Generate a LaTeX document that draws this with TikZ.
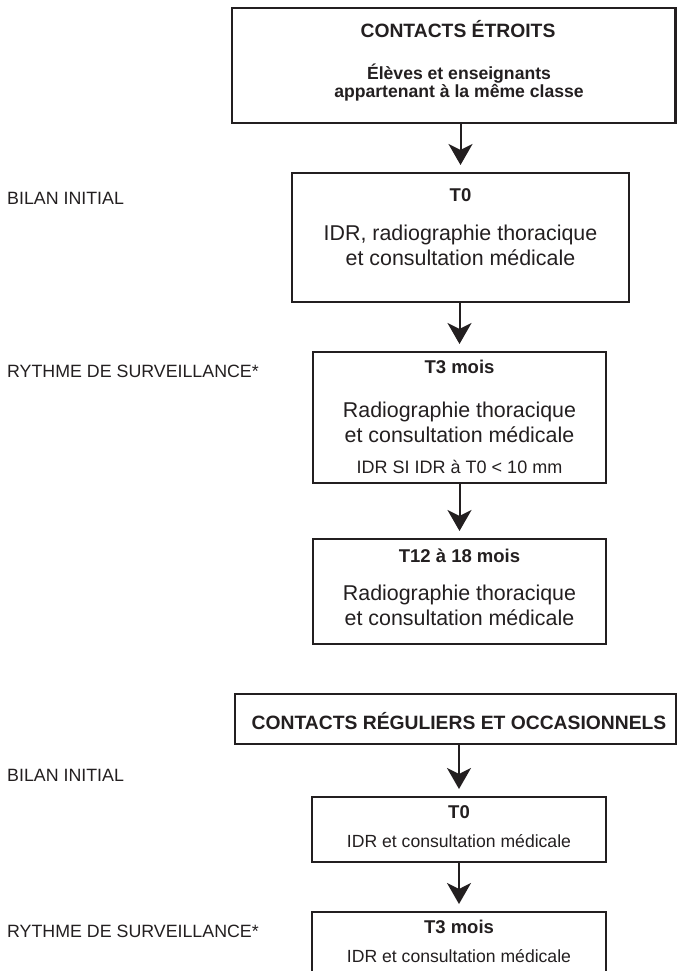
\documentclass[tikz,border=0pt]{standalone}
\usepackage{fontspec}
\setmainfont{Liberation Sans}
\usetikzlibrary{arrows.meta}
\definecolor{ink}{RGB}{35,31,32}
\begin{document}
\begin{tikzpicture}[x=1pt,y=-1pt,
  box/.style={draw=ink, line width=2.2pt, inner sep=0pt, outer sep=0pt},
  arr/.style={draw=ink, line width=2pt, -{Stealth[length=21pt,width=24pt,inset=6pt]}, shorten >=8pt},
  txt/.style={text=ink, anchor=base, inner sep=0pt},
  headtxt/.style={txt, font=\fontsize{19.3}{22}\selectfont\bfseries},
  subtxt/.style={txt, font=\fontsize{17.6}{20}\selectfont\bfseries},
  titletxt/.style={txt, font=\fontsize{18.5}{21}\selectfont\bfseries},
  bigtxt/.style={txt, font=\fontsize{21.4}{25}\selectfont},
  midtxt/.style={txt, font=\fontsize{18}{21}\selectfont},
  smalltxt/.style={txt, font=\fontsize{17.6}{20}\selectfont},
  sidetxt/.style={txt, anchor=base west, font=\fontsize{17.8}{20}\selectfont}]
\useasboundingbox (0,0) rectangle (677,971);
\fill[white] (0,0) rectangle (677,971);
\clip (0,0) rectangle (677,971);

% boxes
\node[box, minimum width=443.5pt, minimum height=115pt] (b1) at (453.75,65.5) {};
\node[box, minimum width=337pt, minimum height=129pt] (b2) at (460.5,237.5) {};
\node[box, minimum width=293pt, minimum height=131pt] (b3) at (459.5,417.5) {};
\node[box, minimum width=293pt, minimum height=105pt] (b4) at (459.5,591.5) {};
\node[box, minimum width=441pt, minimum height=50pt] (b5) at (455.5,719) {};
\node[box, minimum width=294pt, minimum height=65pt] (b6) at (459,829.5) {};
\node[box, minimum width=294pt, minimum height=88pt] (b7) at (459,956) {};

% box 1 texts
\node[headtxt] (t1a) at (458,37.5) {CONTACTS ÉTROITS};
\node[subtxt] (t1b) at (459,79.5) {Élèves et enseignants};
\node[subtxt] (t1c) at (459,97.5) {appartenant à la même classe};

% box 2 texts
\node[titletxt] (t2a) at (460.5,201.5) {T0};
\node[bigtxt] (t2b) at (460.5,240) {IDR, radiographie thoracique};
\node[bigtxt] (t2c) at (460.5,265) {et consultation médicale};

% box 3 texts
\node[titletxt] (t3a) at (459.5,373) {T3 mois};
\node[bigtxt] (t3b) at (459.5,417) {Radiographie thoracique};
\node[bigtxt] (t3c) at (459.5,442) {et consultation médicale};
\node[midtxt] (t3d) at (459.5,473) {IDR SI IDR à T0 < 10 mm};

% box 4 texts
\node[titletxt] (t4a) at (459.5,562) {T12 à 18 mois};
\node[bigtxt] (t4b) at (459.5,600) {Radiographie thoracique};
\node[bigtxt] (t4c) at (459.5,625) {et consultation médicale};

% box 5 text
\node[headtxt] (t5a) at (459,729) {CONTACTS RÉGULIERS ET OCCASIONNELS};

% box 6 texts
\node[titletxt] (t6a) at (459,818) {T0};
\node[smalltxt] (t6b) at (459,847) {IDR et consultation médicale};

% box 7 texts
\node[titletxt] (t7a) at (459,933) {T3 mois};
\node[smalltxt] (t7b) at (459,962) {IDR et consultation médicale};

% side labels
\node[sidetxt] (s1) at (7,204) {BILAN INITIAL};
\node[sidetxt] (s2) at (7,377) {RYTHME DE SURVEILLANCE*};
\node[sidetxt] (s3) at (7,781) {BILAN INITIAL};
\node[sidetxt] (s4) at (7,937) {RYTHME DE SURVEILLANCE*};

% arrows
\draw[arr] (b2.north |- b1.south) -- (b2.north);
\draw[arr] (b3.north |- b2.south) -- (b3.north);
\draw[arr] (b4.north |- b3.south) -- (b4.north);
\draw[arr] (b6.north |- b5.south) -- (b6.north);
\draw[arr] (b7.north |- b6.south) -- (b7.north);
\end{tikzpicture}
\end{document}
